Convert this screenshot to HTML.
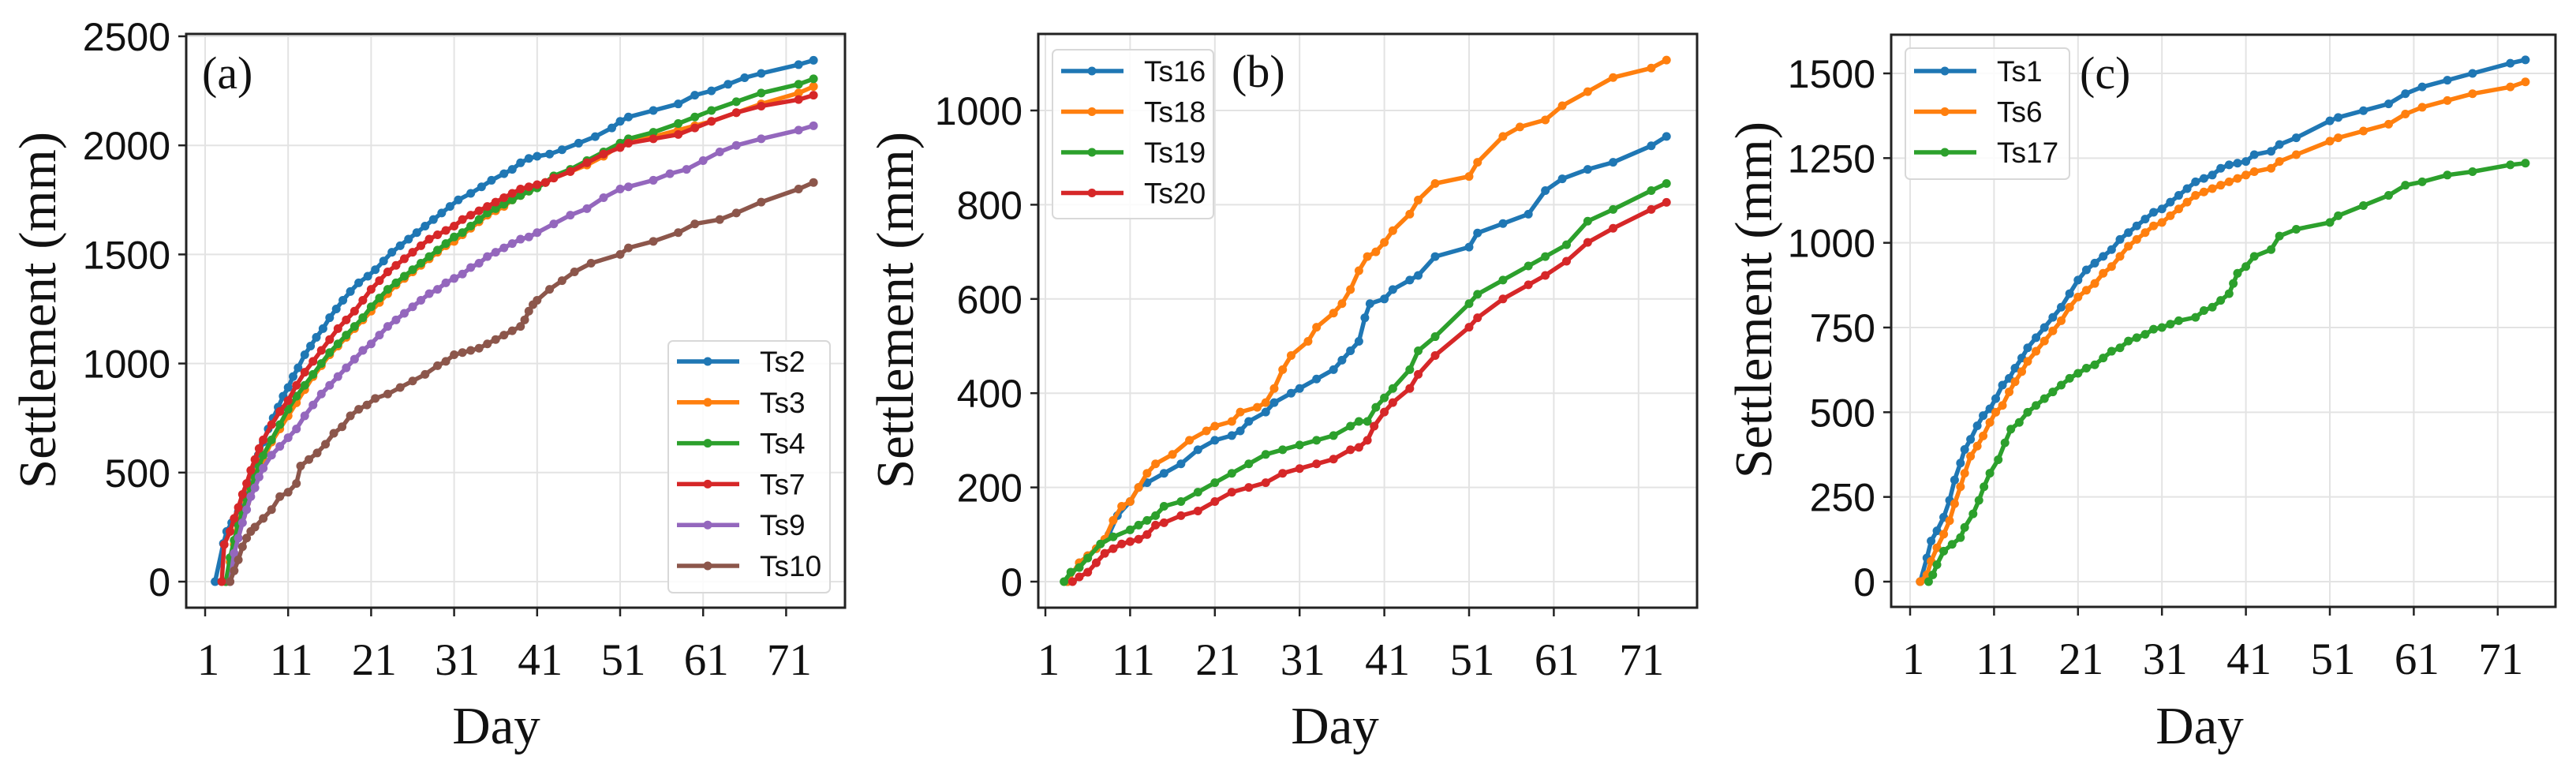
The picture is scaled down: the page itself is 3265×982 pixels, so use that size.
<!DOCTYPE html>
<html><head><meta charset="utf-8"><style>
html,body{margin:0;padding:0;background:#fff;}
svg{display:block;}
</style></head><body>
<svg id="fig" xmlns="http://www.w3.org/2000/svg" width="3265" height="982" viewBox="0 0 3265 982"></svg>
<script>
// ---------- Panel (a) data ----------
const aTs2Days=[2.2,3.2,3.6,4.2,5,5.6,6.2,6.8,7.4,8,8.6,9.2,9.8,10.4,11,11.6,12.2,13,13.7,14.4,15.2,16,16.8,17.6,18.5,19.5,20.6,21.5,22.5,23.5,24.5,25.5,26.5,27.5,28.5,29.5,30.5,31.5,33,34.3,35.5,37,38,39,40,41,42.5,44,46,48,50,51,52,55,58,60,62,64,66,68,72.5,74.3];
const aTs2Vals=[0,175,230,270,320,390,450,510,580,640,700,750,800,850,890,940,980,1040,1080,1120,1160,1210,1250,1290,1330,1370,1400,1430,1470,1510,1540,1570,1600,1630,1660,1690,1720,1750,1780,1810,1840,1870,1890,1920,1940,1950,1960,1980,2010,2040,2080,2110,2130,2160,2190,2230,2250,2280,2310,2330,2370,2390];
const aTs3Days=[3.5,4,4.5,5,5.5,6,6.5,7,7.5,8,9,10,11,12,13,14,15,16,17,18,19,20,21,22,23,24,25,26,27,28,29,30,31,32,33,34,35,36,37,38,39,40,41,42,43,45,47,49,51,52,55,58,60,62,65,68,72.5,74.3];
const aTs3Vals=[0,90,170,240,300,360,420,470,520,560,640,700,760,820,880,940,990,1040,1080,1120,1160,1200,1240,1280,1320,1360,1390,1420,1450,1480,1510,1540,1560,1590,1620,1650,1680,1700,1720,1750,1770,1790,1810,1830,1850,1880,1910,1950,2000,2020,2040,2070,2090,2110,2150,2190,2240,2270];
const aTs4Days=[3.5,4,4.5,5,5.5,6,6.5,7,7.5,8,9,10,11,12,13,14,15,16,17,18,19,20,21,22,23,24,25,26,27,28,29,30,31,32,33,34,35,36,37,38,39,40,41,42,43,45,47,49,51,52,55,58,60,62,65,68,72.5,74.3];
const aTs4Vals=[0,110,190,260,320,380,430,480,530,580,650,720,790,850,900,950,1000,1050,1090,1130,1170,1210,1260,1300,1340,1370,1400,1430,1460,1490,1520,1550,1580,1600,1630,1660,1690,1710,1730,1750,1770,1790,1805,1830,1860,1890,1930,1970,2010,2030,2060,2100,2130,2160,2200,2240,2280,2305];
const aTs7Days=[3,3.3,4,4.5,5,5.5,6,6.5,7,7.5,8,9,10,11,12,13,14,15,16,17,18,19,20,21,22,23,24,25,26,27,28,29,30,31,32,33,34,35,36,37,38,39,40,41,42,43,45,47,49,51,52,55,58,60,62,65,68,72.5,74.3];
const aTs7Vals=[0,170,230,290,340,400,450,510,560,610,650,720,780,830,900,960,1010,1060,1110,1160,1200,1240,1290,1340,1380,1420,1450,1480,1510,1540,1570,1590,1610,1630,1660,1680,1700,1720,1740,1760,1780,1800,1810,1820,1830,1850,1880,1920,1960,1990,2010,2030,2050,2080,2110,2150,2180,2210,2230];
const aTs9Days=[4,4.5,5,5.5,6,6.5,7,7.5,8,9,10,11,12,13,14,15,16,17,18,19,20,21,22,23,24,25,26,27,28,29,30,31,32,33,34,35,36,37,38,39,40,41,43,45,47,49,51,52,55,57,59,61,63,65,68,72.5,74.3];
const aTs9Vals=[0,130,200,270,330,390,430,480,520,580,620,660,700,760,810,860,900,940,980,1020,1060,1090,1130,1170,1200,1230,1260,1290,1320,1340,1370,1390,1410,1440,1460,1490,1510,1530,1550,1570,1580,1600,1640,1680,1710,1760,1800,1810,1840,1870,1890,1930,1970,2000,2030,2070,2090];
const aTs10Days=[4,4.5,5,5.5,6,6.5,7,8,9,10,11,12,12.5,13.5,14.5,15.5,16.5,17.5,18.5,19.5,20.5,21.5,23,24.5,26,27.5,29,30,31,32,33,34,35,36,37,38,39,39.5,40,40.5,41,42.5,44,45.5,47.5,51,52,55,58,60,63,65,68,72.5,74.3];
const aTs10Vals=[0,50,100,160,200,230,250,290,330,390,410,450,530,560,590,630,680,710,760,790,810,840,860,890,920,950,990,1010,1040,1050,1060,1070,1090,1110,1130,1150,1170,1200,1240,1270,1290,1340,1380,1420,1460,1500,1530,1560,1600,1640,1660,1690,1740,1800,1830];

// ---------- Panel (b) data ----------
const bTs16Days=[3.6,5,6,7,8.5,9.5,11,12,13,15,17,19,21,23,24,25,27,28,30,31,33,35,36,37,38,38.7,39.3,41,42,44,45,47,51,52,55,58,60,62,65,68,72.5,74.3];
const bTs16Vals=[0,40,55,70,100,140,170,200,210,230,250,280,300,310,320,340,360,380,400,410,430,450,470,490,510,560,590,600,620,640,650,690,710,740,760,780,830,855,875,890,925,945];
const bTs18Days=[3.6,5,6,7,8,9,10,11,12,13,14,16,18,20,21,23,24,26,27,28,29,30,32,33,35,36,37,38,39,40,41,42,44,45,47,51,52,55,57,60,62,65,68,72.5,74.3];
const bTs18Vals=[0,40,55,70,90,130,160,170,200,230,250,270,300,320,330,340,360,370,380,410,450,480,510,540,570,590,620,660,690,700,720,745,780,810,845,860,890,945,965,980,1010,1040,1070,1090,1107];
const bTs19Days=[3.2,4,5,6,7.5,9,11,12,13,14,15,17,19,21,23,25,27,29,31,33,35,37,38,39,40,41,42,44,45,47,51,52,55,58,60,62.5,65,68,72.5,74.3];
const bTs19Vals=[0,20,30,50,80,95,110,120,130,140,160,170,190,210,230,250,270,280,290,300,310,330,340,340,370,390,410,450,490,520,590,610,640,670,690,715,765,790,830,845];
const bTs20Days=[4.2,5,6,7,8,9,10,11,12,13,14,15,17,19,21,23,25,27,29,31,33,35,37,38,39,39.8,41,42,44,45,47,51,52,55,58,60,62.5,65,68,72.5,74.3];
const bTs20Vals=[0,10,20,40,60,70,80,85,90,100,120,125,140,150,170,190,200,210,230,240,250,260,280,285,300,330,360,380,410,440,480,540,560,600,630,650,680,720,750,790,805];

// ---------- Panel (c) data ----------
const cTs1Days=[2.2,3,3.5,4.2,5,5.7,6.3,7,7.5,8.2,9,9.7,10.5,11.2,12,12.8,13.5,14.3,15,16,17,18,19,20,21,22,23,24,25,26,27,28,29,30,31,32,33,34,35,36,37,38,39,40,41,42,44,45,47,51,52,55,58,60,62,65,68,72.5,74.3];
const cTs1Vals=[0,70,120,150,190,240,300,350,390,420,460,490,510,540,580,600,630,660,690,720,750,780,810,850,890,920,940,960,980,1010,1030,1050,1070,1090,1100,1120,1140,1160,1180,1190,1200,1220,1230,1235,1240,1260,1270,1290,1310,1360,1370,1390,1410,1440,1460,1480,1500,1530,1540];
const cTs6Days=[2.2,3,3.5,4.2,5,5.7,6.3,7,7.5,8.2,9,9.7,10.5,11.2,12,12.8,13.5,14.3,15,16,17,18,19,20,21,22,23,24,25,26,27,28,29,30,31,32,33,34,35,36,37,38,39,40,41,42,44,45,47,51,52,55,58,60,62,65,68,72.5,74.3];
const cTs6Vals=[0,20,60,100,140,180,230,280,320,370,400,430,470,500,520,560,590,620,650,680,710,740,770,810,840,860,880,910,930,960,990,1010,1030,1050,1060,1080,1100,1120,1140,1150,1160,1170,1180,1190,1200,1210,1220,1240,1260,1300,1310,1330,1350,1380,1400,1420,1440,1460,1475];
const cTs17Days=[3.2,3.7,4.2,5,6,7,7.5,8.5,9.2,9.8,10.5,11.5,12.3,13,14,15,16,17,18,19,20,21,22,23,24,25,26,27,28,29,30,31,32,33,35,36,37,38,39,39.5,40,41,42,44,45,47,51,52,55,58,60,62,65,68,72.5,74.3];
const cTs17Vals=[0,20,50,90,110,130,160,200,240,280,320,360,410,450,470,500,520,540,560,580,600,615,630,640,660,680,690,710,720,730,745,750,760,770,780,800,810,830,850,880,910,930,960,980,1020,1040,1060,1080,1110,1140,1170,1180,1200,1210,1230,1235];

// ---------- Axis tick labels ----------
const xTickLabels=[1,11,21,31,41,51,61,71];
const aYTicks=[0,500,1000,1500,2000,2500];
const bYTicks=[0,200,400,600,800,1000];
const cYTicks=[0,250,500,750,1000,1250,1500];
const aNames=['Ts2','Ts3','Ts4','Ts7','Ts9','Ts10'];
const bNames=['Ts16','Ts18','Ts19','Ts20'];
const cNames=['Ts1','Ts6','Ts17'];

const C=['#1f77b4','#ff7f0e','#2ca02c','#d62728','#9467bd','#8c564b'];
const NS='http://www.w3.org/2000/svg';
const svg=document.getElementById('fig');
function mk(tag,attrs,parent){const e=document.createElementNS(NS,tag);for(const k in attrs)e.setAttribute(k,attrs[k]);(parent||svg).appendChild(e);return e;}

const panels=[
 {id:'a',L:236,R:1071,T:43,B:770,x1:260,pxDay:10.52,y0:737,y1:46,v1:2500,ticks:aYTicks,
  series:[[aTs2Days,aTs2Vals],[aTs3Days,aTs3Vals],[aTs4Days,aTs4Vals],[aTs7Days,aTs7Vals],[aTs9Days,aTs9Vals],[aTs10Days,aTs10Vals]],
  names:aNames,colors:[C[0],C[1],C[2],C[3],C[4],C[5]],
  leg:{x:847,y:432,w:205,h:319,first:458,step:51.8},tag:{x:256,y:112,t:'(a)'},ylab:{x:48,y:393},day:{x:629}},
 {id:'b',L:1316,R:2151,T:43,B:770,x1:1325,pxDay:10.74,y0:737,y1:140,v1:1000,ticks:bYTicks,
  series:[[bTs16Days,bTs16Vals],[bTs18Days,bTs18Vals],[bTs19Days,bTs19Vals],[bTs20Days,bTs20Vals]],
  names:bNames,colors:[C[0],C[1],C[2],C[3]],
  leg:{x:1334,y:63,w:204,h:214,first:90,step:51.5},tag:{x:1561,y:110,t:'(b)'},ylab:{x:1135,y:393},day:{x:1692}},
 {id:'c',L:2397,R:3239,T:44,B:769,x1:2421,pxDay:10.64,y0:737,y1:93,v1:1500,ticks:cYTicks,
  series:[[cTs1Days,cTs1Vals],[cTs6Days,cTs6Vals],[cTs17Days,cTs17Vals]],
  names:cNames,colors:[C[0],C[1],C[2]],
  leg:{x:2415,y:61,w:208,h:166,first:90,step:51.5},tag:{x:2636,y:112,t:'(c)'},ylab:{x:2223,y:380},day:{x:2788}}
];

panels.forEach(p=>{
  const xs=d=>p.x1+(d-1)*p.pxDay;
  const ys=v=>p.y0-(v/p.v1)*(p.y0-p.y1);
  const g=mk('g',{});
  
  
  xTickLabels.forEach(t=>{
    const l=mk('line',{x1:xs(t),x2:xs(t),y1:p.T,y2:p.B,stroke:'#e3e3e3','stroke-width':2},g);
    
    
  });
  p.ticks.forEach(t=>{
    const l=mk('line',{x1:p.L,x2:p.R,y1:ys(t),y2:ys(t),stroke:'#e3e3e3','stroke-width':2},g);
    
    
  });
  p.series.forEach((s,i)=>{
    const sg=mk('g',{},g);
    
    
    const pts=s[0].map((d,j)=>xs(d).toFixed(1)+','+ys(s[1][j]).toFixed(1)).join(' ');
    const pl=mk('polyline',{points:pts,fill:'none',stroke:p.colors[i],'stroke-width':5.5,'stroke-linejoin':'round'},sg);
    
    
    s[0].forEach((d,j)=>{
      const c=mk('circle',{cx:xs(d),cy:ys(s[1][j]),r:5.5,fill:p.colors[i]},sg);
      
      
    });
  });
  const fr=mk('rect',{x:p.L,y:p.T,width:p.R-p.L,height:p.B-p.T,fill:'none',stroke:'#222','stroke-width':3},g);
  
  
  xTickLabels.forEach(t=>{
    const tk=mk('line',{x1:xs(t),x2:xs(t),y1:p.B,y2:p.B+11,stroke:'#222','stroke-width':2.5},g);
    
    
    const tx=mk('text',{x:xs(t)+4,y:p.B+85,'text-anchor':'middle','font-family':'Liberation Serif, serif','font-size':57,fill:'#111'},g);
    tx.textContent=t;
    
    
  });
  p.ticks.forEach(t=>{
    const tk=mk('line',{x1:p.L-10,x2:p.L,y1:ys(t),y2:ys(t),stroke:'#222','stroke-width':2.5},g);
    
    
    const tx=mk('text',{x:p.L-20,y:ys(t)+18,'text-anchor':'end','font-family':'Liberation Sans, sans-serif','font-size':50,fill:'#111'},g);
    tx.textContent=t;
    
    
  });
  const yl=mk('text',{x:p.ylab.x,y:p.ylab.y,transform:'rotate(-90 '+p.ylab.x+' '+p.ylab.y+')','text-anchor':'middle','dominant-baseline':'central','font-family':'Liberation Serif, serif','font-size':67,fill:'#111'},g);
  yl.textContent='Settlement (mm)';
  
  
  const xl=mk('text',{x:p.day.x,y:942,'text-anchor':'middle','font-family':'Liberation Serif, serif','font-size':67,fill:'#111'},g);
  xl.textContent='Day';
  
  
  const tg=mk('text',{x:p.tag.x,y:p.tag.y,'font-family':'Liberation Serif, serif','font-size':58,fill:'#111'},g);
  tg.textContent=p.tag.t;
  
  
  const lg=mk('g',{},g);
  
  
  const lb=mk('rect',{x:p.leg.x,y:p.leg.y,width:p.leg.w,height:p.leg.h,rx:6,fill:'#fff','fill-opacity':0.85,stroke:'#d8d8d8','stroke-width':2},lg);
  
  
  p.names.forEach((n,i)=>{
    const y=p.leg.first+i*p.leg.step;
    const eg=mk('g',{},lg);
    
    
    mk('line',{x1:p.leg.x+11,x2:p.leg.x+90,y1:y,y2:y,stroke:p.colors[i],'stroke-width':5.5},eg);
    mk('circle',{cx:p.leg.x+50,cy:y,r:5.5,fill:p.colors[i]},eg);
    const t=mk('text',{x:p.leg.x+116,y:y+13,'font-family':'Liberation Sans, sans-serif','font-size':37,fill:'#111'},eg);
    t.textContent=n;
  });
});
</script>
</body></html>
